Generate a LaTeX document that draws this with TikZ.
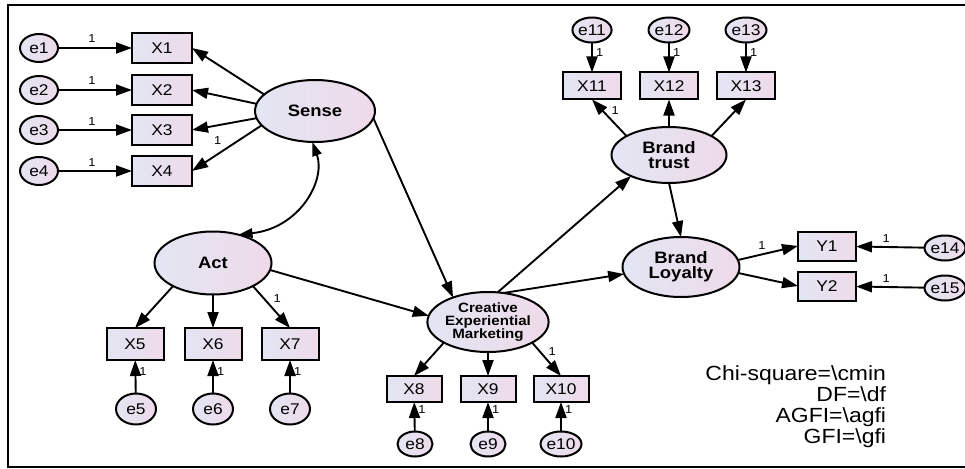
\documentclass[tikz,border=0pt]{standalone}
\usepackage{fontspec}
\setmainfont{Liberation Sans}[FakeStretch=1.12]
\usetikzlibrary{arrows.meta,shapes.geometric}
\definecolor{fillL}{RGB}{226,230,243}
\definecolor{fillR}{RGB}{239,218,233}
\begin{document}
\begin{tikzpicture}[x=1pt,y=-1pt,
  every node/.style={inner sep=0pt, outer sep=0pt},
  lat/.style={ellipse, draw, line width=2pt, left color=fillL, right color=fillR,
    font=\fontsize{16.5}{15}\selectfont\bfseries, align=center},
  cem/.style={ellipse, draw, line width=2pt, left color=fillL, right color=fillR,
    font=\fontsize{13.5}{12.8}\selectfont\bfseries, align=center},
  err/.style={ellipse, draw, line width=2pt, left color=fillL, right color=fillR,
    font=\fontsize{15.5}{15}\selectfont},
  obs/.style={rectangle, draw, line width=2pt, left color=fillL, right color=fillR,
    font=\fontsize{15.5}{15}\selectfont},
  arr/.style={line width=1.9pt, -{Triangle[length=16pt,width=11pt]}},
  dbl/.style={line width=1.9pt, {Triangle[length=14pt,width=9.5pt]}-{Triangle[length=14pt,width=9.5pt]}},
  one/.style={font=\fontsize{11.5}{11}\selectfont},
  fit/.style={font=\fontsize{20.5}{22}\selectfont, anchor=base east},
]
\useasboundingbox (0,0) rectangle (965,468);
\draw[line width=1.8pt] (965,5) -- (8,5) -- (8,467) -- (965,467);

% Sense block
\node[lat, minimum width=120pt, minimum height=62pt] (S) at (315,111) {Sense};
\foreach \i/\y in {1/48,2/90,3/130,4/171}{
  \node[err, minimum width=38pt, minimum height=28pt] (e\i) at (39,\y) {e\i};
  \node[obs, minimum width=60pt, minimum height=30pt] (X\i) at (162,\y) {X\i};
  \draw[arr] (e\i) -- node[one, pos=0.46, above=5pt] {1} (X\i);
}
\draw[arr] (S.162) -- (X1.east);
\draw[arr] (S.173) -- (X2.east);
\draw[arr] (S.187) -- (X3.east);
\draw[arr] (S.195) -- node[one, pos=0.63, above=10pt] {1} (X4.east);

% Act block
\node[lat, minimum width=117pt, minimum height=63pt] (A) at (213,263) {Act};
\node[obs, minimum width=57pt, minimum height=32pt] (X5) at (135,344) {X5};
\node[obs, minimum width=57pt, minimum height=32pt] (X6) at (213,344) {X6};
\node[obs, minimum width=57pt, minimum height=32pt] (X7) at (290,344) {X7};
\node[err, minimum width=40pt, minimum height=31pt] (e5) at (136,409) {e5};
\node[err, minimum width=40pt, minimum height=31pt] (e6) at (213,409) {e6};
\node[err, minimum width=40pt, minimum height=31pt] (e7) at (290,409) {e7};
\draw[arr] (A.210) -- (X5.north);
\draw[arr] (A.270) -- (X6.north);
\draw[arr] (A.330) -- node[one, pos=0.29, right=10pt] {1} (X7.north);
\foreach \i in {5,6,7}{
  \draw[arr] (e\i) -- node[one, pos=0.65, right=4pt] {1} (X\i);
}
\draw[dbl] (A.48) .. controls (300,228) and (326,180) .. (S.265);

% CEM block
\node[cem, minimum width=114pt, minimum height=60pt] (C) at (488,322) {Creative\\Experiential\\Marketing};
\node[obs, minimum width=55pt, minimum height=26pt] (X8) at (414,389) {X8};
\node[obs, minimum width=55pt, minimum height=26pt] (X9) at (488,389) {X9};
\node[obs, minimum width=55pt, minimum height=26pt] (X10) at (561,389) {X10};
\node[err, minimum width=35pt, minimum height=25pt] (e8) at (415,444) {e8};
\node[err, minimum width=35pt, minimum height=25pt] (e9) at (488,444) {e9};
\node[err, minimum width=35pt, minimum height=25pt] (e10) at (561,444) {e10};
\draw[arr] (C.205) -- (X8.north);
\draw[arr] (C.270) -- (X9.north);
\draw[arr] (C.335) -- node[one, pos=0.26, right=9pt] {1} (X10.north);
\foreach \i in {8,9,10}{
  \draw[arr] (e\i) -- node[one, pos=0.76, right=4pt] {1} (X\i);
}
\draw[arr] (S.-7) -- (C.145);
\draw[arr] (A.-7) -- (C.174);

% Brand trust block
\node[lat, minimum width=115pt, minimum height=56pt] (BT) at (669,155) {Brand\\trust};
\node[obs, minimum width=58pt, minimum height=27pt] (X11) at (592,86) {X11};
\node[obs, minimum width=58pt, minimum height=27pt] (X12) at (669,86) {X12};
\node[obs, minimum width=58pt, minimum height=27pt] (X13) at (746,86) {X13};
\node[err, minimum width=35pt, minimum height=25pt] (e11) at (592,30) {e11};
\node[err, minimum width=35pt, minimum height=25pt] (e12) at (669,30) {e12};
\node[err, minimum width=35pt, minimum height=25pt] (e13) at (746,30) {e13};
\draw[arr] (BT.156) -- node[one, pos=0.69, right=9pt] {1} (X11.south);
\draw[arr] (BT.90) -- (X12.south);
\draw[arr] (BT.24) -- (X13.south);
\foreach \i in {11,12,13}{
  \draw[arr] (e\i) -- node[one, pos=0.32, right=4pt] {1} (X\i);
}

% Brand loyalty block
\node[lat, minimum width=117pt, minimum height=60pt] (BL) at (681,267) {Brand\\Loyalty};
\node[obs, minimum width=58pt, minimum height=29pt] (Y1) at (827,246) {Y1};
\node[obs, minimum width=58pt, minimum height=29pt] (Y2) at (827,286) {Y2};
\node[err, minimum width=36pt, minimum height=25pt] (e14) at (945,248) {e14};
\node[err, minimum width=36pt, minimum height=25pt] (e15) at (945,288) {e15};
\draw[arr] (BL.7) -- node[one, pos=0.4, above=5pt] {1} (Y1.west);
\draw[arr] (BL.-6) -- (Y2.west);
\draw[arr] (e14) -- node[one, pos=0.56, above=5pt] {1} (Y1);
\draw[arr] (e15) -- node[one, pos=0.56, above=5pt] {1} (Y2);

\draw[arr] (C.72) -- (BT.209);
\draw[arr] (C.62) -- (BL.187);
\draw[arr] (BT.south) -- (BL.north);

% fit statistics
\node[fit] (f1) at (886,380) {Chi-square=\textbackslash cmin};
\node[fit] (f2) at (886,401) {DF=\textbackslash df};
\node[fit] (f3) at (886,422) {AGFI=\textbackslash agfi};
\node[fit] (f4) at (886,443) {GFI=\textbackslash gfi};
\end{tikzpicture}
\end{document}
